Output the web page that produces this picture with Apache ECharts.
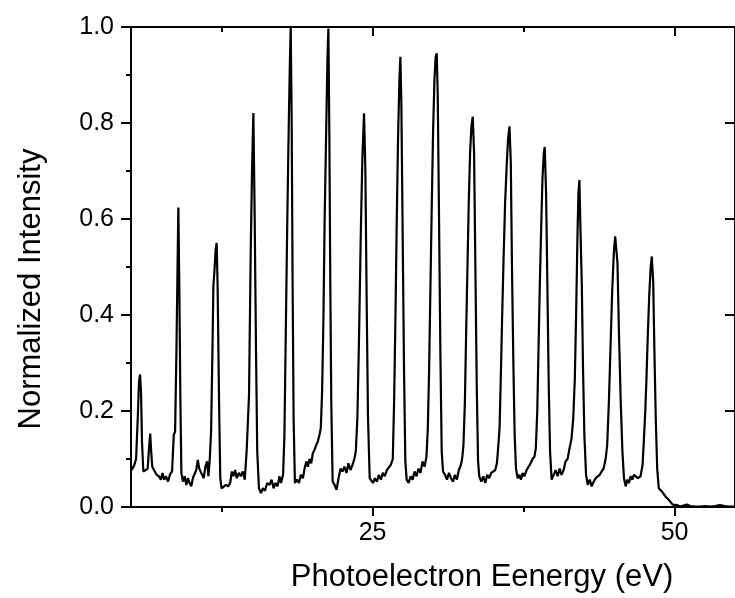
<!DOCTYPE html>
<html>
<head>
<meta charset="utf-8">
<script src="https://cdn.jsdelivr.net/npm/echarts@6/dist/echarts.min.js"></script>
<style>
html,body{margin:0;padding:0;background:#fff;}
#chart{width:735px;height:598px;}
</style>
</head>
<body>
<div id="chart"></div>
<script>
// Photoelectron energy (eV)
const energy = [
5.07,5.28,5.42,5.56,5.66,5.75,5.83,5.91,6.02,6.21,6.38,6.49,6.59,6.67,6.76,6.92,7.12,7.31,7.47,7.61,7.74,7.90,8.07,8.23,8.40,8.54,8.65,8.76,8.84,8.92,9.00,9.09,9.17,9.30,9.44,9.58,9.71,9.85,9.99,10.12,10.26,10.40,10.53,10.65,10.75,10.89,11.02,11.16,11.30,11.41,11.52,11.63,11.74,11.82,11.90,12.01,12.09,12.17,12.29,12.39,12.50,12.66,12.86,13.05,13.21,13.35,13.48,13.62,13.76,13.93,14.09,14.26,14.42,14.58,14.77,14.91,15.02,15.13,15.24,15.35,15.45,15.59,15.76,15.92,16.09,16.27,16.47,16.64,16.80,16.96,17.13,17.29,17.42,17.59,17.70,17.81,17.92,18.03,18.14,18.22,18.30,18.38,18.46,18.57,18.74,18.90,19.06,19.23,19.37,19.51,19.64,19.78,19.92,20.05,20.19,20.33,20.46,20.60,20.71,20.82,20.93,21.03,21.15,21.26,21.34,21.42,21.50,21.58,21.69,21.85,22.02,22.18,22.35,22.51,22.67,22.84,23.00,23.17,23.33,23.47,23.61,23.74,23.88,24.02,24.15,24.29,24.40,24.51,24.62,24.76,25.03,25.19,25.36,25.52,25.69,25.85,26.01,26.18,26.34,26.51,26.67,26.78,26.89,27.00,27.11,27.22,27.30,27.38,27.49,27.60,27.71,27.82,27.98,28.15,28.31,28.48,28.64,28.80,28.97,29.13,29.30,29.46,29.57,29.68,29.79,29.90,30.01,30.12,30.22,30.31,30.39,30.50,30.61,30.72,30.83,31.00,31.16,31.32,31.49,31.65,31.82,31.98,32.14,32.31,32.41,32.52,32.64,32.74,32.85,32.96,33.07,33.18,33.29,33.40,33.51,33.62,33.73,33.83,34.00,34.16,34.33,34.49,34.65,34.82,34.98,35.15,35.29,35.39,35.51,35.61,35.72,35.84,35.97,36.11,36.21,36.33,36.44,36.54,36.66,36.76,36.87,37.01,37.15,37.28,37.42,37.56,37.75,37.91,38.08,38.24,38.40,38.51,38.63,38.73,38.84,38.96,39.06,39.17,39.25,39.36,39.47,39.58,39.69,39.82,39.99,40.15,40.32,40.48,40.64,40.81,40.97,41.14,41.30,41.47,41.61,41.74,41.85,41.96,42.04,42.12,42.20,42.32,42.42,42.53,42.67,42.81,42.97,43.14,43.30,43.47,43.63,43.79,43.96,44.12,44.29,44.42,44.56,44.70,44.83,44.97,45.08,45.13,45.27,45.40,45.54,45.68,45.81,45.95,46.09,46.22,46.36,46.50,46.63,46.77,46.96,47.18,47.35,47.45,47.57,47.68,47.78,47.90,48.01,48.11,48.23,48.33,48.44,48.56,48.69,48.83,48.96,49.10,49.24,49.37,49.51,49.65,49.84,50.00,50.20,50.47,50.74,51.02,51.29,51.70,52.11,52.52,52.93,53.34,53.75,54.16,54.57,55.00
];
// Normalized intensity
const intensity = [
0.077,0.088,0.100,0.185,0.260,0.276,0.240,0.136,0.074,0.077,0.080,0.122,0.153,0.116,0.084,0.080,0.067,0.064,0.057,0.071,0.057,0.064,0.053,0.068,0.074,0.150,0.157,0.323,0.475,0.624,0.461,0.219,0.071,0.053,0.064,0.046,0.060,0.050,0.043,0.060,0.057,0.077,0.098,0.080,0.084,0.067,0.060,0.084,0.095,0.064,0.100,0.157,0.323,0.461,0.489,0.537,0.550,0.461,0.219,0.060,0.039,0.043,0.046,0.043,0.050,0.074,0.064,0.077,0.060,0.071,0.064,0.074,0.057,0.120,0.233,0.530,0.703,0.821,0.600,0.323,0.116,0.039,0.029,0.039,0.034,0.050,0.046,0.057,0.039,0.050,0.043,0.064,0.050,0.067,0.150,0.357,0.565,0.752,0.911,0.999,0.810,0.461,0.185,0.050,0.057,0.050,0.067,0.060,0.080,0.095,0.084,0.100,0.091,0.112,0.119,0.129,0.136,0.150,0.164,0.240,0.392,0.600,0.773,0.932,0.997,0.773,0.461,0.219,0.053,0.046,0.036,0.060,0.080,0.074,0.084,0.071,0.091,0.077,0.088,0.098,0.116,0.185,0.357,0.565,0.724,0.820,0.703,0.426,0.185,0.060,0.050,0.060,0.053,0.067,0.057,0.071,0.064,0.077,0.074,0.088,0.100,0.219,0.392,0.600,0.773,0.890,0.938,0.841,0.565,0.288,0.095,0.057,0.050,0.064,0.057,0.074,0.064,0.080,0.071,0.095,0.084,0.105,0.164,0.288,0.461,0.634,0.786,0.890,0.938,0.945,0.862,0.600,0.323,0.116,0.074,0.067,0.057,0.071,0.060,0.053,0.067,0.057,0.077,0.088,0.100,0.129,0.219,0.357,0.496,0.634,0.738,0.793,0.813,0.738,0.496,0.254,0.095,0.064,0.053,0.064,0.050,0.067,0.060,0.071,0.074,0.077,0.091,0.122,0.164,0.267,0.392,0.516,0.634,0.717,0.765,0.793,0.717,0.496,0.288,0.150,0.080,0.060,0.067,0.057,0.071,0.064,0.077,0.080,0.091,0.100,0.105,0.122,0.198,0.323,0.461,0.586,0.682,0.738,0.750,0.655,0.461,0.254,0.116,0.057,0.067,0.077,0.064,0.080,0.067,0.077,0.095,0.100,0.122,0.143,0.185,0.267,0.406,0.565,0.655,0.681,0.586,0.461,0.288,0.150,0.067,0.046,0.057,0.043,0.053,0.060,0.057,0.067,0.074,0.080,0.100,0.129,0.219,0.337,0.447,0.530,0.564,0.568,0.509,0.357,0.219,0.116,0.060,0.043,0.057,0.050,0.064,0.057,0.067,0.064,0.060,0.064,0.088,0.136,0.198,0.274,0.357,0.440,0.496,0.522,0.468,0.323,0.185,0.080,0.039,0.036,0.032,0.032,0.022,0.025,0.015,0.012,0.005,0.001,0.004,0.001,0.003,0.005,0.002,0.001,0.001,0.002,0.001,0.002,0.004,0.002,0.001,0.001
];
const xLabelValues = [25, 50];
const xMajorTicks = [25, 50];
const xMinorTicks = [12.5, 37.5];
const xTitle = 'Photoelectron Eenergy (eV)';
const yTitle = 'Normalized Intensity';

const points = energy.map((e, i) => [e, intensity[i]]);
const FONT = 'Arial, "Liberation Sans", sans-serif';
const lineStyle = {color: '#000', width: 2};

const chart = echarts.init(document.getElementById('chart'), null, {renderer: 'canvas'});
const xBase = {type: 'value', min: 5, max: 55, splitLine: {show: false}, scale: true};
chart.setOption({
  animation: false,
  backgroundColor: '#fff',
  grid: {left: 131, top: 27, right: -5, bottom: 89, containLabel: false},
  xAxis: [
    Object.assign({}, xBase, {
      position: 'bottom',
      axisLine: {show: true, lineStyle: lineStyle},
      axisTick: {show: true, inside: false, length: 9, lineStyle: lineStyle, customValues: xMajorTicks},
      axisLabel: {show: true, customValues: xLabelValues, margin: 14, color: '#000', fontSize: 25, fontFamily: FONT},
      name: xTitle, nameLocation: 'middle', nameGap: 55,
      nameTextStyle: {color: '#000', fontSize: 31, fontFamily: FONT, padding: [0, 0, 0, 98]}
    }),
    Object.assign({}, xBase, {
      position: 'bottom',
      axisLine: {show: false},
      axisTick: {show: true, inside: false, length: 5, lineStyle: lineStyle, customValues: xMinorTicks},
      axisLabel: {show: false}
    }),
    Object.assign({}, xBase, {
      position: 'top',
      axisLine: {show: true, lineStyle: lineStyle},
      axisTick: {show: true, inside: true, length: 9, lineStyle: lineStyle, customValues: xMajorTicks},
      axisLabel: {show: false}
    }),
    Object.assign({}, xBase, {
      position: 'top',
      axisLine: {show: false},
      axisTick: {show: true, inside: true, length: 5, lineStyle: lineStyle, customValues: xMinorTicks},
      axisLabel: {show: false}
    })
  ],
  yAxis: [
    {
      type: 'value', min: 0, max: 1, interval: 0.2, position: 'left',
      splitLine: {show: false},
      axisLine: {show: true, lineStyle: lineStyle},
      axisTick: {show: true, inside: false, length: 10, lineStyle: lineStyle},
      minorTick: {show: true, splitNumber: 2, length: 5, lineStyle: lineStyle},
      axisLabel: {margin: 17, color: '#000', fontSize: 25, fontFamily: FONT, formatter: v => v.toFixed(1)},
      name: yTitle, nameLocation: 'middle', nameGap: 84, nameRotate: 90,
      nameTextStyle: {color: '#000', fontSize: 31, fontFamily: FONT, padding: [0, 44, 0, 0]}
    },
    {
      type: 'value', min: 0, max: 1, interval: 0.2, position: 'right',
      splitLine: {show: false},
      axisLine: {show: true, lineStyle: lineStyle},
      axisTick: {show: true, inside: true, length: 10, lineStyle: lineStyle},
      minorTick: {show: false},
      axisLabel: {show: false}
    }
  ],
  series: [{
    type: 'line',
    xAxisIndex: 0,
    yAxisIndex: 0,
    data: points,
    showSymbol: false,
    symbol: 'none',
    lineStyle: {color: '#000', width: 2.2},
    clip: true
  }]
});
</script>
</body>
</html>
